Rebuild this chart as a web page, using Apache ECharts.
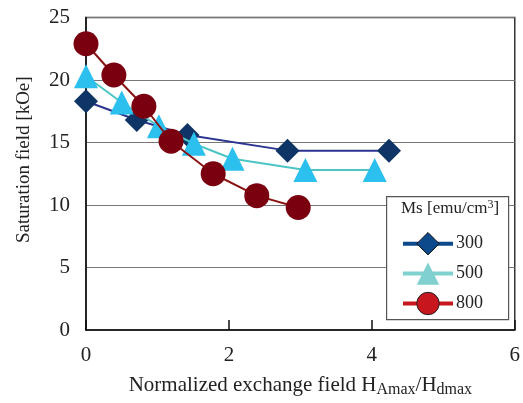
<!DOCTYPE html>
<html><head><meta charset="utf-8">
<script src="https://cdn.jsdelivr.net/npm/echarts@6/dist/echarts.min.js"></script>
<style>html,body{margin:0;padding:0;background:#fff}#c{width:523px;height:403px}</style>
</head><body><div id="c"></div>
<script>
const xTicks = [0, 2, 4, 6];
const yTicks = [0, 5, 10, 15, 20, 25];
const seriesNames = ['300', '500', '800'];
const x300 = [0, 0.71, 1.42, 2.82, 4.24];
const y300 = [18.3, 16.8, 15.6, 14.35, 14.35];
const x500 = [0, 0.50, 1.02, 1.51, 2.05, 3.07, 4.04];
const y500 = [20.3, 18.2, 16.3, 14.9, 13.7, 12.8, 12.8];
const x800 = [0, 0.39, 0.81, 1.19, 1.78, 2.39, 2.97];
const y800 = [22.9, 20.4, 17.9, 15.1, 12.5, 10.75, 9.8];

const zip = (a, b) => a.map((v, i) => [v, b[i]]);
const F = '"Liberation Serif", "DejaVu Serif", serif';

const chart = echarts.init(document.getElementById('c'), null, {renderer: 'canvas'});
chart.setOption({
  animation: false,
  backgroundColor: '#fff',
  grid: {left: 86, right: 6, top: 17.5, bottom: 71, show: true, borderColor: '#333', borderWidth: 1.5, containLabel: false},
  xAxis: {
    type: 'value', min: xTicks[0], max: xTicks[xTicks.length - 1], interval: 2,
    axisLine: {show: true, lineStyle: {color: '#111', width: 1.5}},
    axisTick: {show: true, inside: true, length: 10, lineStyle: {color: '#111', width: 1.5}},
    splitLine: {show: false},
    axisLabel: {fontFamily: F, fontSize: 21, color: '#222', margin: 15},
    name: 'Normalized exchange field H{sub|Amax}/H{sub|dmax}',
    nameLocation: 'middle', nameGap: 42,
    nameTextStyle: {fontFamily: F, fontSize: 21, color: '#222',
      rich: {sub: {fontFamily: F, fontSize: 16, color: '#222', padding: [10, 0, 0, 0]}}}
  },
  yAxis: {
    type: 'value', min: yTicks[0], max: yTicks[yTicks.length - 1], interval: 5,
    axisLine: {show: true, lineStyle: {color: '#111', width: 1.5}},
    axisTick: {show: false},
    splitLine: {show: true, lineStyle: {color: '#777', width: 1.2}},
    axisLabel: {fontFamily: F, fontSize: 21, color: '#222', margin: 16},
    name: 'Saturation field [kOe]', nameLocation: 'middle', nameGap: 52, nameRotate: 90,
    nameTextStyle: {fontFamily: F, fontSize: 19, color: '#222', padding: [0, 0, 0, 28]}
  },
  legend: {
    orient: 'vertical', left: 396, top: 227, itemWidth: 50, itemHeight: 28, itemGap: 7, z: 60,
    textStyle: {fontFamily: F, fontSize: 18, color: '#222', padding: [0, 0, 0, -2]},
    data: [
      {name: seriesNames[0], itemStyle: {color: '#0d4a8c', borderColor: '#111', borderWidth: 1}, lineStyle: {color: '#0d4a8c', width: 4}},
      {name: seriesNames[1], itemStyle: {color: '#7fd0cf', borderWidth: 0}, lineStyle: {color: '#7fd0cf', width: 4}},
      {name: seriesNames[2], itemStyle: {color: '#c8161e', borderColor: '#222', borderWidth: 1}, lineStyle: {color: '#c8161e', width: 4}}
    ]
  },
  graphic: [
    {type: 'rect', left: 386, top: 196, shape: {width: 122, height: 123}, style: {fill: '#fff', stroke: '#555', lineWidth: 1.2}, z: 50},
    {type: 'text', left: 401, top: 199, z: 51,
      style: {text: 'Ms [emu/cm{sup|3}]', font: '17px ' + F, fill: '#222',
        rich: {sup: {fontSize: 12, fontFamily: F, fill: '#222', padding: [0, 0, 8, 0]}}}}
  ],
  series: [
    {name: seriesNames[0], type: 'line', data: zip(x300, y300), symbol: 'diamond', symbolSize: 24,
      itemStyle: {color: '#0f3466'}, lineStyle: {color: '#2b3590', width: 2}, z: 3},
    {name: seriesNames[1], type: 'line', data: zip(x500, y500), symbol: 'triangle', symbolSize: 24,
      itemStyle: {color: '#2bc0ee'}, lineStyle: {color: '#4ec5c5', width: 2}, z: 4},
    {name: seriesNames[2], type: 'line', data: zip(x800, y800), symbol: 'circle', symbolSize: 25,
      itemStyle: {color: '#7a0010'}, lineStyle: {color: '#8a1414', width: 2}, z: 5}
  ]
});
</script></body></html>
